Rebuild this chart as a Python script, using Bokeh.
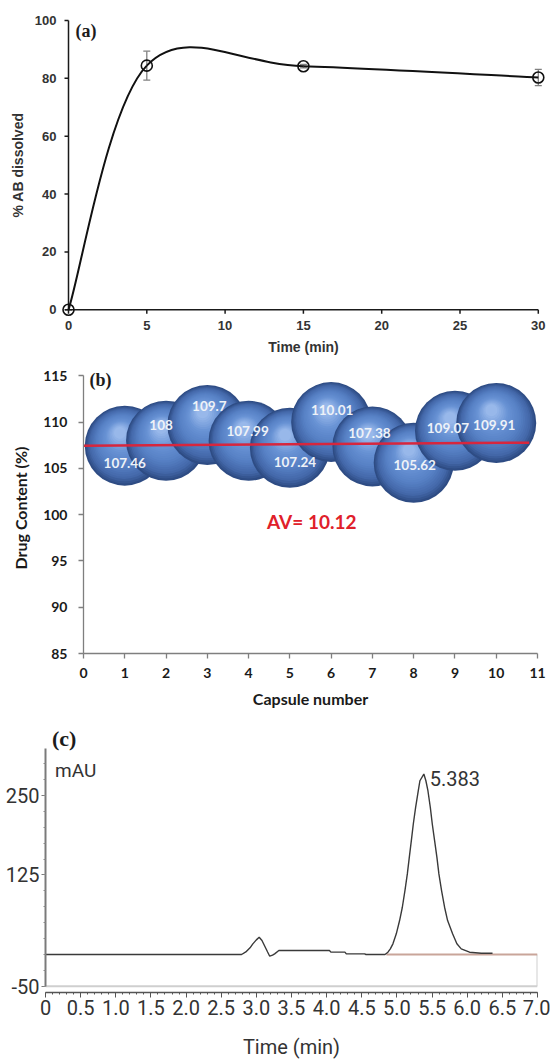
from bokeh.plotting import figure
from bokeh.models import (Range1d, FixedTicker, SingleIntervalTicker, Whisker, TeeHead,
                          Label, ColumnDataSource, NumeralTickFormatter)
from bokeh.core.properties import value
from bokeh.embed import file_html
from bokeh.resources import INLINE

# ---------------- data: (a) dissolution ----------------
time_a = [0, 5, 15, 30]
dissolved_a = [0.0, 84.4, 84.2, 80.3]
error_a = [0.0, 5.0, 0.6, 2.8]
a_xticks = [0, 5, 10, 15, 20, 25, 30]
a_yticks = [0, 20, 40, 60, 80, 100]

# ---------------- data: (b) content uniformity ----------------
capsule = [1, 2, 3, 4, 5, 6, 7, 8, 9, 10]
content = [107.46, 108.0, 109.7, 107.99, 107.24, 110.01, 107.38, 105.62, 109.07, 109.91]
content_text = ["107.46", "108", "109.7", "107.99", "107.24", "110.01", "107.38", "105.62", "109.07", "109.91"]
trend_x = [0.0, 10.8]
trend_y = [107.46, 107.78]
av_value = "10.12"
b_xticks = list(range(0, 12))
b_yticks = [85, 90, 95, 100, 105, 110, 115]

# ---------------- data: (c) chromatogram ----------------
chrom_t = [0.0, 2.79, 2.85, 2.91, 2.95, 3.00, 3.04, 3.08, 3.12, 3.16, 3.19, 3.23, 3.26, 3.32,
           4.04, 4.06, 4.26, 4.28, 4.54, 4.56, 4.83, 4.872, 4.906, 4.943, 4.991, 5.038, 5.077,
           5.114, 5.148, 5.176, 5.205, 5.233, 5.266, 5.304, 5.327, 5.383, 5.412, 5.441, 5.475,
           5.503, 5.536, 5.569, 5.597, 5.635, 5.678, 5.721, 5.792, 5.853, 5.915, 6.033, 6.20, 6.36]
chrom_mau = [0.0, 0.0, 4.0, 10.5, 16.7, 23.0, 27.0, 22.0, 13.0, 4.0, -2.7, -1.0, 1.0, 6.3,
             6.3, 3.7, 3.7, 1.0, 1.0, 0.0, 0.0, 3.6, 8.9, 16.8, 32.5, 53.4, 74.3,
             100.5, 126.7, 152.8, 179.0, 205.2, 231.3, 257.5, 273.2, 283.7, 273.2, 257.5, 231.3,
             205.2, 179.0, 152.8, 126.7, 100.5, 74.3, 53.4, 32.5, 16.8, 8.9, 3.6, 2.0, 2.0]
peak_time = 5.383
base_t = [4.85, 7.0]
base_mau = [0.0, 0.0]
c_yticks = [-50, 125, 250]
c_xmax = 7.0

W = 550

# ======================= panel (a) =======================
ppx_a, ppy_a = 15.66, 2.893
fl_a, fw_a, ft_a, fh_a, H_a = 60, 486, 12, 305, 358
xa0 = (fl_a - 68) / ppx_a
xa1 = xa0 + fw_a / ppx_a
ya0 = -(ft_a + fh_a - 309.3) / ppy_a
ya1 = ya0 + fh_a / ppy_a
pa = figure(width=W, height=H_a, output_backend="svg", toolbar_location=None,
            x_range=Range1d(xa0, xa1), y_range=Range1d(ya0, ya1),
            min_border_left=fl_a, min_border_right=W - fl_a - fw_a, min_border_top=ft_a,
            min_border_bottom=H_a - ft_a - fh_a)
pa.outline_line_color = None
pa.xgrid.visible = False
pa.ygrid.visible = False

# axis lines and outward ticks drawn at the data origin
axc = "#1a1a1a"
pa.segment(x0=[a_xticks[0], a_xticks[0]], y0=[a_yticks[0], a_yticks[0]],
           x1=[a_xticks[-1], a_xticks[0]], y1=[a_yticks[0], a_yticks[-1]],
           line_color=axc, line_width=1.5)
pa.segment(x0=[0] * len(a_yticks), y0=a_yticks, x1=[-4 / ppx_a] * len(a_yticks), y1=a_yticks,
           line_color=axc, line_width=1.5)
pa.segment(x0=a_xticks, y0=[0] * len(a_xticks), x1=a_xticks, y1=[-4 / ppy_a] * len(a_xticks),
           line_color=axc, line_width=1.5)

# smoothed line (Catmull-Rom -> cubic Bezier, as in spreadsheet smoothing)
pts = list(zip(time_a, dissolved_a))
n = len(pts)
bz = dict(x0=[], y0=[], x1=[], y1=[], cx0=[], cy0=[], cx1=[], cy1=[])
for i in range(n - 1):
    p0 = pts[i - 1] if i > 0 else pts[i]
    p1, p2 = pts[i], pts[i + 1]
    p3 = pts[i + 2] if i + 2 < n else pts[i + 1]
    bz["x0"].append(p1[0]); bz["y0"].append(p1[1])
    bz["x1"].append(p2[0]); bz["y1"].append(p2[1])
    bz["cx0"].append(p1[0] + (p2[0] - p0[0]) / 6.0)
    bz["cy0"].append(p1[1] + (p2[1] - p0[1]) / 6.0)
    bz["cx1"].append(p2[0] - (p3[0] - p1[0]) / 6.0)
    bz["cy1"].append(p2[1] - (p3[1] - p1[1]) / 6.0)
pa.bezier(x0="x0", y0="y0", x1="x1", y1="y1", cx0="cx0", cy0="cy0", cx1="cx1", cy1="cy1",
          source=ColumnDataSource(bz), line_color="#111111", line_width=2)

src_a = ColumnDataSource(dict(x=time_a, y=dissolved_a,
                              upper=[v + e for v, e in zip(dissolved_a, error_a)],
                              lower=[v - e for v, e in zip(dissolved_a, error_a)]))
wh = Whisker(source=src_a, base="x", upper="upper", lower="lower", dimension="height",
             line_color="#808080", line_width=1.3,
             upper_head=TeeHead(size=7, line_color="#808080", line_width=1.3),
             lower_head=TeeHead(size=7, line_color="#808080", line_width=1.3))
pa.add_layout(wh)
pa.scatter("x", "y", source=src_a, marker="circle", size=11, fill_color=None,
           line_color="#111111", line_width=1.6)

for ax in (pa.xaxis[0], pa.yaxis[0]):
    ax.axis_line_color = None
    ax.major_tick_line_color = None
    ax.minor_tick_line_color = None
    ax.major_tick_in = 0
    ax.major_tick_out = 0
    ax.major_label_text_font = "Liberation Sans"
    ax.major_label_text_font_style = "bold"
    ax.major_label_text_font_size = "13px"
    ax.major_label_text_color = "#333333"
    ax.axis_label_text_font = "Liberation Sans"
    ax.axis_label_text_font_style = "bold"
    ax.axis_label_text_font_size = "14px"
    ax.axis_label_text_color = "#333333"
pa.xaxis.ticker = FixedTicker(ticks=a_xticks)
pa.yaxis.ticker = FixedTicker(ticks=a_yticks)
pa.xaxis.axis_label = "Time (min)"
pa.yaxis.axis_label = "% AB dissolved"
pa.xaxis.major_label_standoff = 3
pa.yaxis.major_label_standoff = 4
pa.xaxis.axis_label_standoff = 6
pa.yaxis.axis_label_standoff = 6
pa.add_layout(Label(x=0.447, y=96.2, text="(a)", text_font="Liberation Serif",
                    text_font_style="bold", text_font_size="18px", text_color="#1c1c1c",
                    text_baseline="middle", text_align="left"))

# ======================= panel (b) =======================
fl_b, fw_b, ft_b, fh_b, H_b = 83, 454, 4, 291, 355
yb0 = 85
yb1 = yb0 + fh_b / 9.253
pb = figure(width=W, height=H_b, output_backend="svg", toolbar_location=None,
            x_range=Range1d(0, 11), y_range=Range1d(yb0, yb1),
            min_border_left=fl_b, min_border_right=W - fl_b - fw_b, min_border_top=ft_b,
            min_border_bottom=H_b - ft_b - fh_b)
pb.outline_line_color = None
pb.xgrid.visible = False
pb.ygrid.visible = False

R = 40.0
NL = 22
stops = [(0.0, (46, 76, 132)), (0.15, (68, 104, 170)), (0.4, (86, 128, 196)),
         (0.7, (104, 146, 212)), (1.0, (152, 184, 234))]


def grad(t):
    for (t0, c0), (t1, c1) in zip(stops[:-1], stops[1:]):
        if t <= t1:
            f = (t - t0) / (t1 - t0)
            return "#%02x%02x%02x" % tuple(int(round(a + (b - a) * f)) for a, b in zip(c0, c1))
    return "#%02x%02x%02x" % stops[-1][1]


ppx = fw_b / 11.0
ppy = fh_b / (yb1 - yb0)
sph = dict(x=[], y=[], size=[], color=[])
for cx, cy in zip(capsule, content):
    for k in range(NL):
        t = k / (NL - 1)
        sph["x"].append(cx - 0.12 * R * t / ppx)
        sph["y"].append(cy + 0.32 * R * t / ppy)
        sph["size"].append(2 * R * (1 - 0.85 * t))
        sph["color"].append(grad(t))
pb.scatter("x", "y", size="size", fill_color="color", line_color=None, marker="circle",
           source=ColumnDataSource(sph))

pb.line(trend_x, trend_y, line_color="#d7263d", line_width=2.5)

lab_dx = [0, -5, 2, -1, 5, 1, -3, 1, -7, -2]
lab_dy = [17, -16, -19, -10, 14, -12, -13, 2, -3, 2]
pb.text(x=capsule, y=content, text=content_text, x_offset=lab_dx, y_offset=lab_dy,
        text_font=value("Lato"), text_font_style="bold", text_font_size="13.5px",
        text_color="#eef2f8", text_align="center", text_baseline="middle")

pb.add_layout(Label(x=5.53, y=99.22, text="AV= " + av_value, text_font="Lato",
                    text_font_style="bold", text_font_size="19px", text_color="#e0202a",
                    text_align="center", text_baseline="middle"))
pb.add_layout(Label(x=0.143, y=114.54, text="(b)", text_font="Liberation Serif",
                    text_font_style="bold", text_font_size="18px", text_color="#1c1c1c",
                    text_align="left", text_baseline="middle"))

for ax in (pb.xaxis[0], pb.yaxis[0]):
    ax.axis_line_color = "#7f7f7f"
    ax.axis_line_width = 1.3
    ax.major_tick_line_color = "#7f7f7f"
    ax.major_tick_line_width = 1.3
    ax.major_tick_in = 0
    ax.major_tick_out = 5
    ax.minor_tick_line_color = None
    ax.major_label_text_font = "Lato"
    ax.major_label_text_font_style = "bold"
    ax.major_label_text_font_size = "14px"
    ax.major_label_text_color = "#1a1a1a"
    ax.axis_label_text_font = "Lato"
    ax.axis_label_text_font_style = "bold"
    ax.axis_label_text_font_size = "16px"
    ax.axis_label_text_color = "#1a1a1a"
pb.xaxis.ticker = FixedTicker(ticks=b_xticks)
pb.yaxis.ticker = FixedTicker(ticks=b_yticks)
pb.yaxis.bounds = (b_yticks[0], b_yticks[-1])
pb.xaxis.axis_label = "Capsule number"
pb.yaxis.axis_label = "Drug Content (%)"
pb.xaxis.major_label_standoff = 9
pb.yaxis.major_label_standoff = 11
pb.xaxis.axis_label_standoff = 8
pb.yaxis.axis_label_standoff = 10

# ======================= panel (c) =======================
fl_c, fw_c, ft_c, fh_c, H_c = 45, 492, 10, 269, 349
y_lo_c = -59.75
y_hi_c = y_lo_c + fh_c / 0.636
y_axis_top_c = 323.9
pc = figure(width=W, height=H_c, output_backend="svg", toolbar_location=None,
            x_range=Range1d(0, c_xmax), y_range=Range1d(y_lo_c, y_hi_c),
            min_border_left=fl_c, min_border_right=W - fl_c - fw_c, min_border_top=ft_c,
            min_border_bottom=H_c - ft_c - fh_c)
pc.outline_line_color = None
pc.xgrid.visible = False
pc.ygrid.visible = False

# light frame box (bottom at lowest y tick, right side at end of run)
pc.segment(x0=[0, c_xmax], y0=[c_yticks[0], 0], x1=[c_xmax, c_xmax],
           y1=[c_yticks[0], c_yticks[0]], line_color="#cfcfcf", line_width=2)
pc.line(base_t, base_mau, line_color="#c9a59a", line_width=2)
pc.line(chrom_t, chrom_mau, line_color="#3a3a3a", line_width=1.4)

peak_h = max(chrom_mau)
cfont = "Roboto"
pc.add_layout(Label(x=peak_time, y=peak_h, text="%.3f" % peak_time, x_offset=6, y_offset=-4,
                    text_font=cfont, text_font_size="20px", text_color="#333333",
                    text_align="left", text_baseline="alphabetic"))
pc.add_layout(Label(x=0.135, y=290, text="mAU", text_font=cfont, text_font_size="19px",
                    text_color="#333333", text_align="left", text_baseline="middle"))
pc.add_layout(Label(x=0.092, y=339.6, text="(c)", text_font="Liberation Serif",
                    text_font_style="bold", text_font_size="22px", text_color="#1c1c1c",
                    text_align="left", text_baseline="middle"))

yx = pc.yaxis[0]
yx.ticker = FixedTicker(ticks=c_yticks, minor_ticks=list(range(-50, 325, 25)))
yx.major_label_overrides = {t: str(t) for t in c_yticks}
yx.bounds = (c_yticks[0], y_axis_top_c)
yx.axis_line_color = "#7a7a7a"
yx.axis_line_width = 2
yx.major_tick_line_color = "#7a7a7a"
yx.major_tick_in = 0
yx.major_tick_out = 4
yx.minor_tick_line_color = "#8a8a8a"
yx.minor_tick_in = 0
yx.minor_tick_out = 2
yx.major_label_standoff = 2
xx = pc.xaxis[0]
xx.ticker = SingleIntervalTicker(interval=0.5, num_minor_ticks=5)
xx.formatter = NumeralTickFormatter(format="0.0")
xx.major_label_overrides = {0: "0"}
xx.bounds = (0, c_xmax)
xx.axis_line_color = "#555555"
xx.axis_line_width = 1.5
xx.major_tick_line_color = "#555555"
xx.major_tick_in = 0
xx.major_tick_out = 5
xx.minor_tick_line_color = "#555555"
xx.minor_tick_in = 0
xx.minor_tick_out = 2
xx.major_label_standoff = 2
xx.axis_label = "Time (min)"
xx.axis_label_standoff = 17
for ax in (xx, yx):
    ax.major_label_text_font = cfont
    ax.major_label_text_font_size = "20px"
    ax.major_label_text_color = "#333333"
    ax.axis_label_text_font = cfont
    ax.axis_label_text_font_size = "20px"
    ax.axis_label_text_font_style = "normal"
    ax.axis_label_text_color = "#333333"

# separate roots so that the three frames are not aligned to each other
open("out.html", "w").write(file_html([pa, pb, pc], INLINE))
